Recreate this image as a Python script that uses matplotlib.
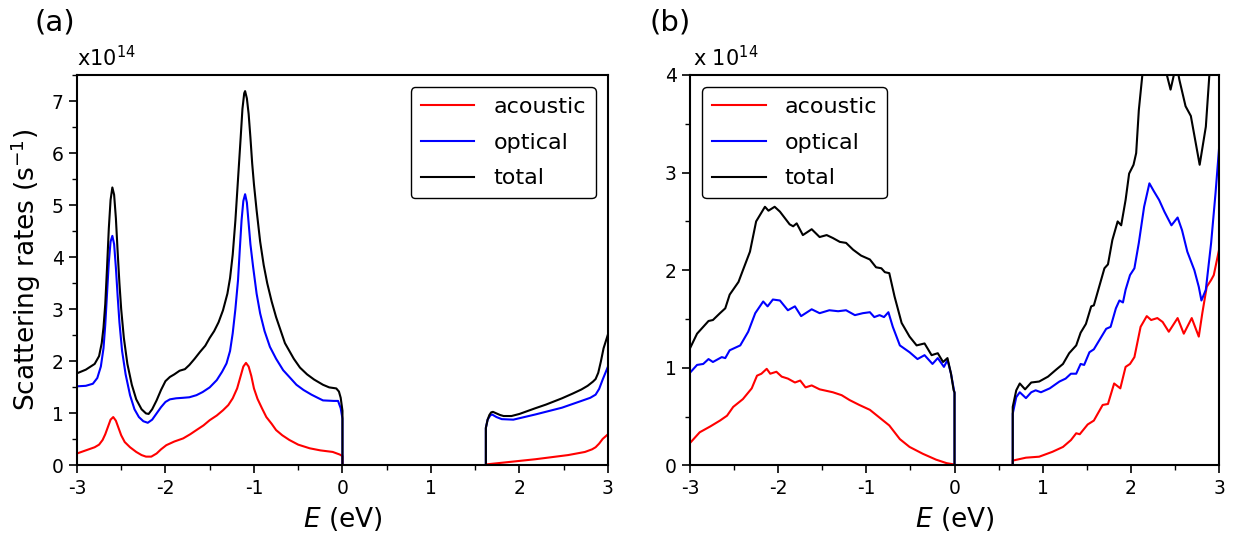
import matplotlib
matplotlib.use("Agg")
import matplotlib.pyplot as plt
import numpy as np

plt.rcParams['font.family'] = ['DejaVu Sans']
plt.rcParams['mathtext.fontset'] = 'dejavusans'

# ---------------- Panel (a) data (units of 1e14 s^-1) ----------------
a_ac_E = [-3.00, -2.90, -2.80, -2.75, -2.71, -2.68, -2.65, -2.62, -2.59, -2.56, -2.53, -2.50, -2.46,
          -2.40, -2.33, -2.27, -2.22, -2.16, -2.10, -2.05, -1.99, -1.90, -1.80, -1.72, -1.65, -1.57,
          -1.50, -1.42, -1.35, -1.29, -1.24, -1.19, -1.15, -1.12, -1.09, -1.06, -1.03, -1.00, -0.96,
          -0.91, -0.86, -0.80, -0.75, -0.68, -0.60, -0.50, -0.37, -0.25, -0.11, -0.03, 0.00, 0.00,
          1.62, 1.62, 2.18, 2.55, 2.74, 2.82, 2.86, 2.90, 2.94, 3.00]
a_ac_v = [0.23, 0.29, 0.35, 0.40, 0.49, 0.60, 0.74, 0.88, 0.93, 0.86, 0.72, 0.58, 0.45,
          0.35, 0.26, 0.20, 0.17, 0.17, 0.23, 0.31, 0.39, 0.46, 0.52, 0.60, 0.68, 0.77,
          0.87, 0.96, 1.06, 1.16, 1.29, 1.48, 1.72, 1.90, 1.97, 1.90, 1.72, 1.48, 1.28,
          1.10, 0.93, 0.80, 0.68, 0.58, 0.49, 0.40, 0.33, 0.29, 0.26, 0.21, 0.18, 0.0,
          0.0, 0.02, 0.12, 0.20, 0.26, 0.31, 0.35, 0.42, 0.51, 0.60]

a_op_E = [-3.00, -2.90, -2.82, -2.77, -2.73, -2.70, -2.68, -2.66, -2.64, -2.62, -2.60, -2.58, -2.56,
          -2.54, -2.52, -2.49, -2.45, -2.40, -2.35, -2.30, -2.25, -2.20, -2.15, -2.10, -2.05, -2.00,
          -1.95, -1.88, -1.80, -1.73, -1.65, -1.58, -1.50, -1.42, -1.36, -1.31, -1.27, -1.24, -1.21,
          -1.18, -1.16, -1.14, -1.12, -1.10, -1.08, -1.06, -1.04, -1.01, -0.97, -0.93, -0.88, -0.82,
          -0.75, -0.67, -0.60, -0.52, -0.44, -0.35, -0.28, -0.22, -0.10, -0.05, -0.02, 0.00, 0.00,
          1.62, 1.62, 1.64, 1.67, 1.69, 1.74, 1.80, 1.93, 2.18, 2.48, 2.70, 2.80, 2.86, 2.90, 2.94, 3.00]
a_op_v = [1.52, 1.53, 1.57, 1.68, 1.90, 2.25, 2.70, 3.30, 3.90, 4.30, 4.41, 4.25, 3.80,
          3.25, 2.75, 2.20, 1.75, 1.35, 1.08, 0.93, 0.85, 0.82, 0.88, 1.00, 1.12, 1.22,
          1.27, 1.29, 1.30, 1.31, 1.35, 1.41, 1.50, 1.64, 1.80, 1.96, 2.20, 2.54, 3.00,
          3.56, 4.15, 4.71, 5.08, 5.21, 5.05, 4.65, 4.25, 3.82, 3.30, 2.92, 2.58, 2.28,
          2.05, 1.83, 1.70, 1.55, 1.45, 1.36, 1.30, 1.25, 1.24, 1.24, 1.10, 0.90, 0.0,
          0.0, 0.72, 0.88, 0.96, 0.98, 0.93, 0.89, 0.88, 0.98, 1.11, 1.24, 1.30, 1.36, 1.47, 1.65, 1.90]

a_tot_E = [-3.00, -2.90, -2.80, -2.75, -2.72, -2.70, -2.68, -2.66, -2.64, -2.62, -2.60, -2.58, -2.56,
           -2.54, -2.52, -2.50, -2.47, -2.43, -2.38, -2.33, -2.27, -2.22, -2.19, -2.15, -2.10, -2.05,
           -2.00, -1.95, -1.90, -1.84, -1.78, -1.73, -1.67, -1.61, -1.55, -1.50, -1.45, -1.40, -1.35,
           -1.30, -1.27, -1.24, -1.21, -1.18, -1.15, -1.13, -1.11, -1.10, -1.08, -1.06, -1.04, -1.02,
           -1.00, -0.97, -0.93, -0.89, -0.85, -0.80, -0.75, -0.70, -0.65, -0.60, -0.55, -0.48, -0.40,
           -0.32, -0.22, -0.15, -0.07, -0.04, -0.02, 0.00, 0.00,
           1.62, 1.62, 1.64, 1.66, 1.68, 1.70, 1.74, 1.78, 1.82, 1.91, 2.00, 2.18, 2.30, 2.48, 2.60,
           2.70, 2.77, 2.83, 2.86, 2.89, 2.92, 2.95, 3.00]
a_tot_v = [1.77, 1.84, 1.95, 2.10, 2.35, 2.65, 3.10, 3.80, 4.55, 5.10, 5.34, 5.20, 4.75,
           4.10, 3.50, 3.00, 2.45, 1.95, 1.55, 1.27, 1.08, 1.00, 0.99, 1.08, 1.25, 1.45,
           1.62, 1.70, 1.75, 1.82, 1.85, 1.93, 2.05, 2.18, 2.30, 2.45, 2.58, 2.75, 2.98,
           3.30, 3.60, 4.05, 4.70, 5.50, 6.30, 6.85, 7.15, 7.19, 7.05, 6.75, 6.30, 5.80,
           5.40, 4.90, 4.30, 3.85, 3.50, 3.15, 2.85, 2.60, 2.35, 2.20, 2.05, 1.88, 1.75,
           1.65, 1.55, 1.50, 1.48, 1.42, 1.30, 1.05, 0.0,
           0.0, 0.72, 0.88, 0.97, 1.02, 1.03, 1.00, 0.97, 0.95, 0.95, 0.99, 1.10, 1.17, 1.29, 1.38,
           1.46, 1.53, 1.61, 1.66, 1.78, 2.00, 2.25, 2.52]

# ---------------- Panel (b) data (units of 1e14 s^-1) ----------------
b_ac_E = [-3.00, -2.89, -2.77, -2.66, -2.58, -2.51, -2.40, -2.30, -2.24, -2.19, -2.13, -2.09, -2.02,
          -1.96, -1.89, -1.81, -1.75, -1.69, -1.62, -1.53, -1.38, -1.28, -1.19, -1.08, -0.96, -0.85,
          -0.74, -0.62, -0.51, -0.36, -0.21, -0.09, 0.00, 0.00,
          0.66, 0.66, 0.81, 0.96, 1.11, 1.23, 1.32, 1.38, 1.42, 1.51, 1.58, 1.68, 1.74, 1.81, 1.88,
          1.94, 1.99, 2.04, 2.11, 2.18, 2.23, 2.30, 2.36, 2.43, 2.53, 2.60, 2.69, 2.77, 2.81, 2.86,
          2.91, 2.94, 3.00]
b_ac_v = [0.23, 0.34, 0.40, 0.46, 0.51, 0.60, 0.68, 0.79, 0.92, 0.94, 0.99, 0.94, 0.96,
          0.91, 0.89, 0.85, 0.87, 0.80, 0.82, 0.78, 0.75, 0.72, 0.67, 0.62, 0.57, 0.49,
          0.41, 0.27, 0.19, 0.12, 0.06, 0.024, 0.01, 0.0,
          0.0, 0.05, 0.08, 0.09, 0.14, 0.19, 0.26, 0.33, 0.32, 0.42, 0.46, 0.62, 0.63, 0.84, 0.79,
          1.01, 1.04, 1.11, 1.42, 1.53, 1.49, 1.51, 1.47, 1.37, 1.51, 1.35, 1.51, 1.32, 1.56, 1.83,
          1.90, 1.95, 2.21]

b_op_E = [-3.00, -2.92, -2.85, -2.79, -2.74, -2.64, -2.60, -2.55, -2.43, -2.34, -2.26, -2.17, -2.12,
          -2.06, -1.98, -1.89, -1.81, -1.74, -1.62, -1.53, -1.42, -1.32, -1.23, -1.13, -1.04, -0.96,
          -0.91, -0.85, -0.80, -0.75, -0.70, -0.62, -0.51, -0.42, -0.34, -0.25, -0.19, -0.12, -0.08,
          -0.04, 0.00, 0.00,
          0.66, 0.66, 0.70, 0.74, 0.81, 0.87, 0.92, 0.98, 1.08, 1.19, 1.26, 1.32, 1.38, 1.43, 1.47,
          1.53, 1.58, 1.64, 1.72, 1.77, 1.83, 1.87, 1.91, 1.94, 1.99, 2.04, 2.09, 2.15, 2.21, 2.26,
          2.32, 2.38, 2.46, 2.53, 2.58, 2.64, 2.72, 2.77, 2.80, 2.85, 2.91, 2.96, 3.00]
b_op_v = [0.95, 1.03, 1.04, 1.09, 1.06, 1.11, 1.10, 1.18, 1.23, 1.37, 1.56, 1.68, 1.63,
          1.70, 1.69, 1.59, 1.63, 1.53, 1.60, 1.56, 1.59, 1.58, 1.59, 1.54, 1.56, 1.57,
          1.52, 1.54, 1.52, 1.57, 1.42, 1.23, 1.16, 1.09, 1.13, 1.04, 1.10, 1.01, 1.08,
          0.94, 0.74, 0.0,
          0.0, 0.53, 0.70, 0.75, 0.69, 0.75, 0.77, 0.75, 0.79, 0.86, 0.89, 0.94, 0.94, 1.04, 1.03,
          1.16, 1.19, 1.28, 1.40, 1.42, 1.61, 1.69, 1.67, 1.80, 1.95, 2.02, 2.28, 2.65, 2.89, 2.81,
          2.72, 2.60, 2.46, 2.54, 2.41, 2.19, 2.00, 1.83, 1.69, 1.80, 2.28, 2.79, 3.25]

b_tot_E = [-3.00, -2.92, -2.85, -2.79, -2.74, -2.66, -2.60, -2.55, -2.45, -2.40, -2.32, -2.25, -2.19,
           -2.15, -2.11, -2.04, -1.98, -1.87, -1.83, -1.79, -1.72, -1.62, -1.53, -1.45, -1.38, -1.30,
           -1.23, -1.15, -1.06, -0.96, -0.89, -0.83, -0.79, -0.74, -0.68, -0.60, -0.51, -0.43, -0.34,
           -0.26, -0.19, -0.13, -0.08, -0.04, -0.01, 0.00, 0.00,
           0.66, 0.66, 0.70, 0.74, 0.80, 0.87, 0.96, 1.06, 1.15, 1.23, 1.30, 1.38, 1.43, 1.49, 1.55,
           1.58, 1.64, 1.70, 1.74, 1.79, 1.85, 1.89, 1.94, 1.98, 2.03, 2.06, 2.09, 2.13, 2.20, 2.30,
           2.38, 2.45, 2.50, 2.53, 2.55, 2.62, 2.68, 2.78, 2.85, 2.89, 3.00]
b_tot_v = [1.20, 1.35, 1.42, 1.48, 1.49, 1.56, 1.61, 1.75, 1.88, 2.00, 2.19, 2.50, 2.59,
           2.65, 2.61, 2.65, 2.60, 2.47, 2.45, 2.48, 2.36, 2.42, 2.34, 2.36, 2.33, 2.29,
           2.28, 2.21, 2.15, 2.11, 2.03, 2.02, 1.98, 1.97, 1.73, 1.46, 1.32, 1.23, 1.25,
           1.13, 1.15, 1.06, 1.10, 0.94, 0.77, 0.75, 0.0,
           0.0, 0.60, 0.77, 0.84, 0.78, 0.85, 0.86, 0.91, 0.98, 1.04, 1.15, 1.23, 1.36, 1.45, 1.63,
           1.64, 1.83, 2.02, 2.06, 2.31, 2.50, 2.46, 2.72, 2.99, 3.08, 3.20, 3.64, 4.00, 4.40, 4.50,
           4.10, 3.85, 4.05, 4.05, 3.95, 3.68, 3.58, 3.08, 3.47, 4.00, 4.90]

labels = ['acoustic', 'optical', 'total']
colors = ['red', 'blue', 'black']

fig = plt.figure(figsize=(12.37, 5.39), dpi=100)
axa = fig.add_axes([0.0622, 0.1364, 0.4293, 0.7245])
axb = fig.add_axes([0.5578, 0.1364, 0.4277, 0.7245])

def style(ax, ylim, yticks):
    ax.set_xlim(-3, 3)
    ax.set_ylim(*ylim)
    ax.set_xticks(np.arange(-3, 4, 1))
    ax.set_xticks(np.arange(-3, 3.01, 0.5), minor=True)
    ax.set_yticks(yticks)
    ax.set_yticks(np.arange(0, ylim[1] + 0.01, 0.5), minor=True)
    ax.set_xticklabels([str(int(t)) for t in np.arange(-3, 4, 1)])
    ax.set_yticklabels([str(int(t)) for t in yticks])
    ax.tick_params(which='major', direction='out', length=6, width=1.2, labelsize=13.5)
    ax.tick_params(which='minor', direction='out', length=3.5, width=1.0)
    ax.tick_params(top=False, right=False)
    for s in ax.spines.values():
        s.set_linewidth(1.5)
    ax.set_xlabel(r'$E$ (eV)', fontsize=19, labelpad=5)

def legend(ax, loc):
    lg = ax.legend(loc=loc, fontsize=16, frameon=True, fancybox=True,
                   handlelength=2.4, handletextpad=0.85, labelspacing=0.7,
                   borderaxespad=0.55, borderpad=0.45)
    lg.get_frame().set_edgecolor('black')
    lg.get_frame().set_linewidth(1.0)
    lg.get_frame().set_alpha(1)

# panel (a)
for E, v, lab, c in zip([a_ac_E, a_op_E, a_tot_E], [a_ac_v, a_op_v, a_tot_v], labels, colors):
    axa.plot(E, v, color=c, lw=1.5, label=lab)
style(axa, (0, 7.5), list(range(0, 8)))
axa.set_ylabel(r'Scattering rates (s$^{\mathregular{-1}}$)', fontsize=19, labelpad=6)
legend(axa, 'upper right')
axa.text(0.0, 1.012, r'x10$^{\mathregular{14}}$', transform=axa.transAxes,
         fontsize=15, ha='left', va='bottom')

# panel (b)
for E, v, lab, c in zip([b_ac_E, b_op_E, b_tot_E], [b_ac_v, b_op_v, b_tot_v], labels, colors):
    axb.plot(E, v, color=c, lw=1.5, label=lab)
style(axb, (0, 4), [0, 1, 2, 3, 4])
legend(axb, 'upper left')
axb.text(0.005, 1.012, r'x 10$^{\mathregular{14}}$', transform=axb.transAxes,
         fontsize=15, ha='left', va='bottom')

fig.text(0.028, 0.985, '(a)', fontsize=21, ha='left', va='top')
fig.text(0.525, 0.985, '(b)', fontsize=21, ha='left', va='top')

fig.savefig('out.png', dpi=100)
